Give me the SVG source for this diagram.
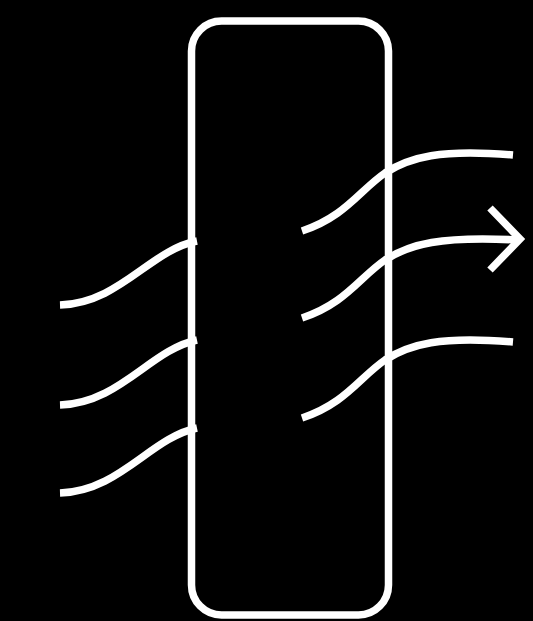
<svg xmlns="http://www.w3.org/2000/svg" width="533" height="621" viewBox="0 0 533 621">
<style>
.ln{fill:none;stroke:#fff;stroke-width:7.5;stroke-linecap:butt;stroke-linejoin:miter}
</style>
<rect x="0" y="0" width="533" height="621" fill="#000"/>
<g id="box">
<rect x="191.5" y="21" width="197" height="594" rx="30" ry="30" class="ln"/>
</g>
<g id="connectors">
<path class="ln" d="M60,305 C120,303 150,250 197,241"/>
<path class="ln" d="M60,405 C120,403 150,350 197,340"/>
<path class="ln" d="M60,493 C120,491 150,438 197,428"/>
<path class="ln" d="M302,231 C345,217 360,190 385,173 C410,157 440,149 513,155"/>
<path class="ln" d="M302,318 C345,304 360,277 385,260 C410,244 440,236 518,240"/>
<path class="ln" d="M302,418 C345,404 360,377 385,360 C410,344 440,336 513,342"/>
<path class="ln" d="M490,208 L520,239 L490,270"/>
</g>
</svg>
